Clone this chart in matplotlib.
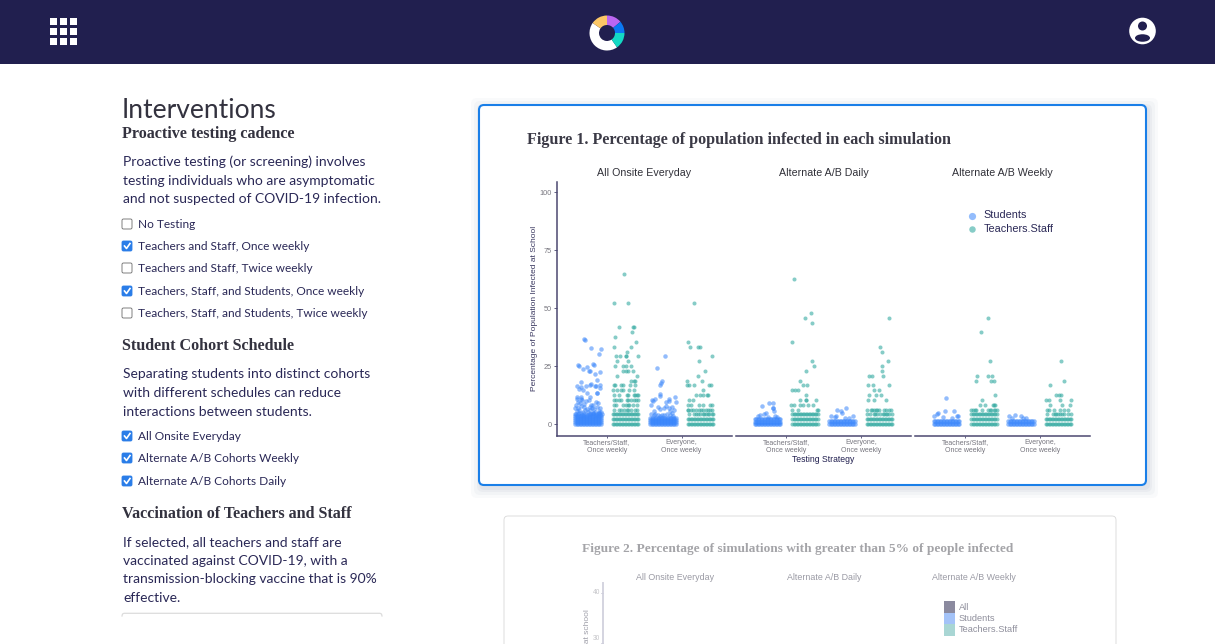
#!/usr/bin/env python3
"""Interventions dashboard screenshot: jittered infection scatter in three facets."""

import matplotlib
matplotlib.use("Agg")
import matplotlib.pyplot as plt
from matplotlib.patches import Circle, Ellipse, FancyBboxPatch, Rectangle, Wedge

W, H = 1215, 644
NAVY = "#211f4f"
INK = "#2a2856"
SANS = "Lato"
SERIF = "Liberation Serif"
CHART = "Liberation Sans"

# ── Data ─────────────────────────────────────────────────────────────────────
schedules = ["All Onsite Everyday", "Alternate A/B Daily", "Alternate A/B Weekly"]
strategies = ["Teachers/Staff,\nOnce weekly", "Everyone,\nOnce weekly"]
series_names = ["Students", "Teachers.Staff"]
y_ticks = [0, 25, 50, 75, 100]

# the solid strips: jitter across one group, repeated on each y level
band_x = [-.17, -.15, -.13, -.11, -.09, -.07, -.05, -.03, -.01,
          .01, .03, .05, .07, .09, .11, .13, .15, .17]
n = len(band_x)

# All Onsite Everyday
on_t_stu_x = band_x * 5 + [
    -.06, -.045, .035, .175, .15, -.135, -.12, -.07, -.01, .06, .08, .015, .02,
    .09, .155, .12, -.095, -.155, -.1, -.12, -.075, -.03, .02, .035, .09, .11,
    .165, .16, -.02, .02, -.15, -.095, -.145, -.08, .115, .125,
    -.14, -.16, -.11, -.09, -.06, -.03, .01, .04, .07, .1, .13, .16,
    -.17, -.13, -.1, -.05, -.02, .03, .05, .08, .12, .15,
    -.15, -.12, -.07, -.04, 0, .02, .06, .09, .14, .17,
    -.16, -.09, -.05, .01, .07, .11, .18, -.12, .04, .15,
    -.18, -.13, -.08, -.03, .03, .06, .1, .13, .16]
on_t_stu_y = [0] * n + [.9] * n + [1.8] * n + [2.7] * n + [3.5] * n + [
    36.8, 36.2, 33, 32.3, 30.2, 25.6, 25, 23.9, 24.7, 26.1, 25.6, 22.8, 22.8,
    21.4, 22.4, 19.1, 18, 16.4, 15.8, 15.1, 14.7, 16.5, 16.8, 17.4, 16.5, 16.2,
    16.8, 15.4, 13.2, 11.8, 11.5, 11.6, 10.8, 10.5, 13.3, 13.3,
    9.5, 8, 9.1, 10.6, 8.6, 9.9, 10.2, 8.4, 8.1, 9.4, 9.2, 6.9,
    7.1, 7, 7.6, 7.4, 6.3, 7.3, 6.8, 6.5, 7.2, 5.5,
    5.6, 6.2, 5.1, 5.9, 5.3, 6.1, 4.8, 5.4, 4.9, 5.2,
    4.4, 4.6, 4.5, 4.3, 4.7, 4.2, 4.5, 4.9, 4.4, 4.6,
    4.2, 4.3, 4.1, 4.3, 4.2, 4.4, 4.1, 4.2, 4.1]

on_t_tea_x = band_x * 3 + [
    -.02, -.15, .03, -.09, .10, .11, .09, -.14, .14, -.15, .08, .02,
    -.13, -.07, 0, .01, .17, -.11, .03, -.14, -.03, .01, .07,
    -.03, 0, .03, .10, -.11, .16, .08, .11, .13,
    -.16, -.14, -.06, -.04, .06, .13, -.17, -.12, -.06, -.03, .05, .12,
    -.15, -.09, .02, .04, .11, .13, .15, .17,
    -.16, -.13, -.09, -.06, .02, .04, .08, .11, .14, .17,
    -.15, -.13, -.03, 0, .03, .05, .10, .15,
    -.15, -.09, -.06, -.02, .02, .04, .08, .13, .15]
on_t_tea_y = [0] * n + [2.08] * n + [4.17] * n + (
    [64.6] + [52.1] * 2 + [41.7] * 3 + [39.6] + [37.5] + [35.4] + [33.3] * 2 + [31.25]
    + [29.2] * 5 + [27] * 2 + [25] * 4 + [22.9] * 4 + [20.8] * 2 + [18.75] * 3
    + [16.7] * 6 + [14.6] * 6 + [12.5] * 8 + [10.4] * 10 + [8.33] * 8 + [6.25] * 9)

on_e_stu_x = band_x * 4 + [
    .03, -.08, -.01, -.02, -.035, -.045, -.045, -.11, -.15, -.135, -.165, .165,
    .075, .08, .035, .17, .125, .075, .01, -.06, -.035, .04, -.125, .1, .15,
    -.16, -.1, -.07, -.01, .05, .12, -.12, -.04, .02, .09, .14]
on_e_stu_y = [0] * n + [.9] * n + [1.8] * n + [2.7] * n + [
    29.5, 24.3, 18.4, 17.7, 17, 12.8, 11.9, 10.9, 10.5, 9.9, 8, 11.6,
    10.8, 9.9, 9.3, 9.3, 7.5, 6.9, 6.9, 7.3, 6.5, 7.6, 5.5, 5.5, 5.9,
    4.2, 4.4, 3.9, 4.1, 4.3, 4.6, 3.7, 3.6, 3.8, 3.9, 3.6]

on_e_tea_x = band_x * 2 + [
    -.09, -.165, -.135, -.035, 0, .15, -.015, .06, -.035, -.175, .02,
    -.18, -.155, -.08, .11, .145, .04, -.06, 0, .03, .09, .105, -.155, -.095,
    -.165, -.125, -.015, .035, .135, .15,
    -.17, -.16, -.12, -.10, -.06, -.02, .01, .04, .07, .10, .13, .16,
    -.15, -.09, -.06, -.03, 0, .03, .05, .08, .10, .12, .15, .17]
on_e_tea_y = [0] * n + [2.08] * n + (
    [52.1] + [35.4] + [33.3] * 3 + [29.2] + [27] + [22.9] + [20.8] + [18.75] * 2
    + [16.7] * 5 + [14.6] + [12.5] * 5 + [10.4] * 2 + [8.33] * 6 + [6.25] * 12 + [4.17] * 12)

# Alternate A/B Daily
ab_d_t_stu_x = band_x * 3 + [.02, .07, -.07, .07, .08, .09, -.02, -.05, -.1, -.12, .01, .1, .13]
ab_d_t_stu_y = [0] * n + [1] * n + [2] * n + [9, 8.9, 7.9, 7, 6.9, 5.5, 4.7, 4.5, 3.9, 3.6, 3.2, 3.3, 2.9]

ab_d_t_tea_x = band_x * 3 + [
    -.15, .08, 0, .1, -.17, .10, .12, .02, -.07, -.02, .03, -.165, -.13, -.09, .02,
    -.07, .01, .02, .15, -.18, -.15, -.06, -.02, .04, .11, -.17, -.09, .16, .17]
ab_d_t_tea_y = [0] * n + [2.08] * n + [4.17] * n + (
    [62.5] + [48] + [45.8] + [43.8] + [35.5] + [27] + [25] + [22.9] + [18.75]
    + [16.7] * 2 + [14.6] * 3 + [12.5] + [10.4] * 4 + [8.33] * 6 + [6.25] * 4)

ab_d_e_stu_x = band_x * 2 + [.055, -.075, -.02, 0, -.15, -.085, -.1, .15, .04, .09]
ab_d_e_stu_y = [0] * n + [1.1] * n + [7, 6.2, 5.5, 4.7, 3.3, 3.6, 3, 3.4, 2.6, 2.8]

ab_d_e_tea_x = band_x * 2 + [
    .12, 0, .03, .11, .035, .03, -.135, -.1, .05, -.16, -.085, .12, -.07, -.01,
    -.14, -.05, .02, -.15, -.08, .08,
    -.17, -.12, -.10, -.08, -.05, -.03, -.01, .06, .09, .13, .15,
    -.17, -.13, -.08, -.06, -.03, 0, .04, .06, .08, .1, .13, .16]
ab_d_e_tea_y = [0] * n + [2.08] * n + (
    [45.8] + [33.3] + [31.25] + [27] + [25] + [22.9] + [20.8] * 3 + [16.7] * 3
    + [14.6] * 2 + [12.5] * 3 + [10.4] * 3 + [6.25] * 11 + [4.17] * 12)

# Alternate A/B Weekly
ab_w_t_stu_x = band_x * 2 + [0, -.015, .10, -.11, -.13, -.165, -.04, .16, .14, .07]
ab_w_t_stu_y = [0] * n + [1.1] * n + [11.2, 5.5, 5.6, 4.7, 4.2, 3.4, 3.2, 3.6, 3.3, 2.6]

ab_w_t_tea_x = band_x * 3 + [
    .06, -.035, .085, -.085, .06, .11, -.1, .10, .135, .15, -.03,
    -.045, .02, .12, .14, .155,
    -.17, -.15, -.12, -.10, -.03, .05, .08, .10, .13, .15, .17]
ab_w_t_tea_y = [0] * n + [2.08] * n + [4.17] * n + (
    [45.8] + [39.7] + [27] + [20.8] * 3 + [18.75] * 3 + [12.5] + [10.4]
    + [8.33] * 5 + [6.25] * 11)

ab_w_e_stu_x = band_x * 2 + [-.16, -.085, 0, .06, -.12, .03]
ab_w_e_stu_y = [0] * n + [1.1] * n + [3.6, 3.7, 3.3, 2.6, 2.7, 2.8]

ab_w_e_tea_x = band_x * 2 + [
    .03, .07, -.11, -.03, 0, .03, -.17, -.13, .02, .17, -.11, .05, .15,
    -.155, -.13, -.06, .02, .07, .125,
    -.16, -.08, -.05, -.03, -.01, .02, .04, .07, .12, .16]
ab_w_e_tea_y = [0] * n + [2.08] * n + (
    [27] + [18.75] + [16.7] + [12.5] * 3 + [10.4] * 4 + [8.33] * 3
    + [6.25] * 6 + [4.17] * 10)

facets = [
    [(on_t_stu_x, on_t_stu_y, on_t_tea_x, on_t_tea_y),
     (on_e_stu_x, on_e_stu_y, on_e_tea_x, on_e_tea_y)],
    [(ab_d_t_stu_x, ab_d_t_stu_y, ab_d_t_tea_x, ab_d_t_tea_y),
     (ab_d_e_stu_x, ab_d_e_stu_y, ab_d_e_tea_x, ab_d_e_tea_y)],
    [(ab_w_t_stu_x, ab_w_t_stu_y, ab_w_t_tea_x, ab_w_t_tea_y),
     (ab_w_e_stu_x, ab_w_e_stu_y, ab_w_e_tea_x, ab_w_e_tea_y)],
]

# Sidebar content
testing_options = ["No Testing", "Teachers and Staff, Once weekly", "Teachers and Staff, Twice weekly",
                   "Teachers, Staff, and Students, Once weekly", "Teachers, Staff, and Students, Twice weekly"]
testing_checked = [False, True, False, True, False]
cohort_options = ["All Onsite Everyday", "Alternate A/B Cohorts Weekly", "Alternate A/B Cohorts Daily"]
cohort_checked = [True, True, True]
fig2_legend = ["All", "Students", "Teachers.Staff"]
fig2_legend_colors = ["#8b8a9f", "#a4c3f8", "#a9d6d4"]

COLORS = {"Students": "#3a86fb", "Teachers.Staff": "#35aaa2"}


# ── Page furniture, in pixel coordinates ─────────────────────────────────────
fig = plt.figure(figsize=(W / 100, H / 100), dpi=100, facecolor="white")
page = fig.add_axes([0, 0, 1, 1])
page.set_xlim(0, W)
page.set_ylim(H, 0)
page.axis("off")


def rounded(x0, y0, x1, y1, r=3, **kw):
    page.add_patch(FancyBboxPatch((x0 + r, y0 + r), x1 - x0 - 2 * r, y1 - y0 - 2 * r,
                                  boxstyle=f"round,pad={r},rounding_size={r}", **kw))


def checkbox(y, label, checked):
    if checked:
        rounded(122, y - 5, 132, y + 5, r=1.5, fc="#2a7de8", ec="#2a7de8", lw=0.6)
        page.plot([124.5, 126.5, 130], [y, y + 2.5, y - 2.5], color="white", lw=1.2)
    else:
        rounded(122, y - 5, 132, y + 5, r=1.5, fc="white", ec="#6b6b6b", lw=0.6)
    page.text(138, y, label, fontsize=8.6, family=SANS, color=INK, va="center")


def paragraph(ys, lines):
    for y, line in zip(ys, lines):
        page.text(123, y + 1, line, fontsize=10, family=SANS, color=INK, va="center")


def heading(y, label):
    page.text(122, y + 1, label, fontsize=11.6, family=SERIF, weight="bold", color="#33323f", va="center")


# header bar
page.add_patch(Rectangle((0, 0), W, 64, fc=NAVY, ec="none"))
for gy in [18, 28, 38]:
    for gx in [50, 60, 69.5]:
        page.add_patch(Rectangle((gx, gy), 7.3, 7, fc="white", ec="none"))
for start, end, col in [(55, 215, "white"), (215, 270, "#fcc766"), (270, 320, "#bb66f2"),
                        (320, 360, "#0b78f2"), (0, 55, "#14d9c4")]:
    page.add_patch(Wedge((607, 33), 17.5, start, end, width=9.5, fc=col, ec="none"))
page.add_patch(Circle((1142.5, 31), 13.3, fc="white", ec="none"))
page.add_patch(Circle((1142.5, 26), 4.5, fc=NAVY, ec="none"))
page.add_patch(Ellipse((1142.5, 38), 15, 7.5, fc=NAVY, ec="none"))

# sidebar
page.text(122, 110, "Interventions", fontsize=19, family=SANS, color="#33323f", va="center")
heading(133, "Proactive testing cadence")
paragraph([161, 180, 198], ["Proactive testing (or screening) involves",
                            "testing individuals who are asymptomatic",
                            "and not suspected of COVID-19 infection."])
for y, label, on in zip([224, 246, 268, 291, 313], testing_options, testing_checked):
    checkbox(y, label, on)
heading(345, "Student Cohort Schedule")
paragraph([373, 392, 411], ["Separating students into distinct cohorts",
                            "with different schedules can reduce",
                            "interactions between students."])
for y, label, on in zip([436, 458, 481], cohort_options, cohort_checked):
    checkbox(y, label, on)
heading(513, "Vaccination of Teachers and Staff")
paragraph([541, 560, 578, 597], ["If selected, all teachers and staff are",
                                 "vaccinated against COVID-19, with a",
                                 "transmission-blocking vaccine that is 90%",
                                 "effective."])
page.plot([122, 122.5, 124, 380, 381.5, 382], [616, 614, 613.3, 613.3, 614, 616], color="#dcdcdc", lw=0.9)

# figure 1 card with soft shadow
for grow, alpha in [(10, .03), (7, .04), (4, .05), (2, .06)]:
    rounded(479 - grow + 2, 105 - grow + 3, 1146 + grow + 2, 485 + grow + 3, r=6,
            fc="#5a6a8a", ec="none", alpha=alpha)
rounded(479, 105, 1146, 485, r=5, fc="white", ec="#1a7fe8", lw=1.5)
page.text(527, 139.5, "Figure 1. Percentage of population infected in each simulation",
          fontsize=11.6, family=SERIF, weight="bold", color="#3b3a46", va="center")

# figure 2 card, faded and cut off by the page bottom
rounded(504, 516, 1116, 680, r=4, fc="white", ec="#d8d8d8", lw=0.6)
page.text(581.5, 549, "Figure 2. Percentage of simulations with greater than 5% of people infected",
          fontsize=9.6, family=SERIF, weight="bold", color="#a4a4a8", va="center")
for x, label in zip([675.5, 824.5, 974], schedules):
    page.text(x, 577, label, fontsize=6.4, family=CHART, color="#9a9aa4", ha="center", va="center")
page.plot([603, 603], [583, 644], color="#d4d4e0", lw=1.4)
for y, label in [(593, "40"), (643, "30")]:
    page.text(600, min(y, 639), label, fontsize=4.8, family=CHART, color="#c4c4c8", ha="right", va="center")
    page.plot([601, 603], [y, y], color="#cfcfdc", lw=0.6)
page.text(587.5, 609.5, "Percentage of Population Infected at school", rotation=90, fontsize=6,
          family=CHART, color="#a0a0aa", ha="center", va="top", clip_on=True)
for y0, label, col in zip([601, 612.5, 624], fig2_legend, fig2_legend_colors):
    page.add_patch(Rectangle((944, y0), 11, 11.5, fc=col, ec="none"))
    page.text(958.5, y0 + 6, label, fontsize=6.7, family=CHART, color="#8f8f9c", va="center")


# ── Figure 1 facets ──────────────────────────────────────────────────────────
panel_left = [556.7, 736, 915]
for i, (left, schedule, groups) in enumerate(zip(panel_left, schedules, facets)):
    ax = fig.add_axes([left / W, 1 - 436 / H, 175 / W, 254.3 / H], facecolor="none")
    for cat, (stu_x, stu_y, tea_x, tea_y) in enumerate(groups, start=1):
        ax.scatter([cat - .25 + j for j in stu_x], stu_y, s=10.5, color=COLORS["Students"],
                   alpha=0.55, linewidths=0, label=series_names[0] if cat == 1 else None)
        ax.scatter([cat + .25 + j for j in tea_x], tea_y, s=8.5, color=COLORS["Teachers.Staff"],
                   alpha=0.6, linewidths=0, label=series_names[1] if cat == 1 else None)
    ax.set_xlim(0.33, 2.67)
    ax.set_ylim(-5.17, 104.6)
    ax.set_xticks([1, 2])
    ax.set_xticklabels(strategies, fontsize=5, family=CHART, color="#77767f", linespacing=1.2)
    ax.tick_params(axis="x", length=1.5, width=0.6, color="#4b4870", pad=1)
    for side in ["top", "right"]:
        ax.spines[side].set_visible(False)
    ax.spines["bottom"].set_color("#4b4870")
    ax.spines["bottom"].set_linewidth(1.1)
    if i == 0:
        ax.spines["left"].set_color("#4b4870")
        ax.spines["left"].set_linewidth(1.1)
        ax.set_yticks(y_ticks)
        ax.set_yticklabels(y_ticks, fontsize=5.3, family=CHART, color="#77767f")
        ax.tick_params(axis="y", length=2, width=0.6, color="#4b4870", pad=1.5)
        ax.set_ylabel("Percentage of Population Infected at School", fontsize=6,
                      family=CHART, color="#3a3860", labelpad=1)
    else:
        ax.spines["left"].set_visible(False)
        ax.set_yticks([])
    ax.set_title(schedule, fontsize=7.7, family=CHART, color="#303038", pad=4)
    if i == 1:
        ax.set_xlabel("Testing Strategy", fontsize=6.2, family=CHART, color=NAVY, labelpad=0.5)
    if i == 2:
        leg = ax.legend(loc="upper left", bbox_to_anchor=(961 / W, 1 - 210.5 / H),
                        bbox_transform=fig.transFigure, frameon=False, markerscale=1.6,
                        prop={"family": CHART, "size": 7.8}, labelspacing=0.3,
                        handletextpad=0.1, borderpad=0, borderaxespad=0)
        for t in leg.get_texts():
            t.set_color(INK)

fig.savefig("out.png", dpi=100)
plt.close()
